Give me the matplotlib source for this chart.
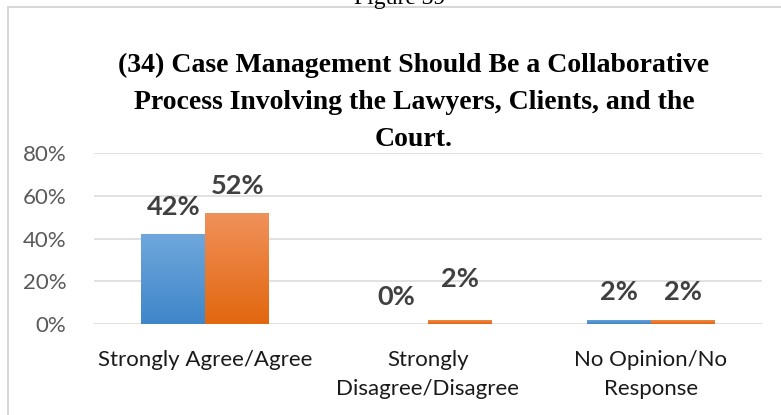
import matplotlib
matplotlib.use("Agg")
import matplotlib.pyplot as plt
import matplotlib.patches as mpatches
import numpy as np

# --- data ---
categories = ["Strongly Agree/Agree", "Strongly\nDisagree/Disagree", "No Opinion/No\nResponse"]
series_a = [42, 0, 2]   # blue
series_b = [52, 2, 2]   # orange
y_ticks = [0, 20, 40, 60, 80]
title = ("(34) Case Management Should Be a Collaborative\n"
         "Process Involving the Lawyers, Clients, and the\nCourt.")
caption = "Figure 39"

W, H = 781, 415
fig = plt.figure(figsize=(W / 100, H / 100), dpi=100)

# light frame around the chart (right/bottom run off the crop)
frame = mpatches.Rectangle((8 / W, -0.1), 1.2, 1.1 - 7 / H, transform=fig.transFigure,
                           fill=False, edgecolor="#d4d4d4", lw=1.3, clip_on=False)
fig.patches.append(frame)

# caption above the frame, mostly cut off like in the source
fig.text(400 / W, 1 - 4 / H, caption, ha="center", va="baseline",
         family="Liberation Serif", fontsize=17, color="black")

fig.text(414 / W, 1 - 53 / H, title, ha="center", va="top", family="Liberation Serif",
         fontweight="bold", fontsize=20, linespacing=1.62, color="black")

ax = fig.add_axes([94 / W, 1 - 324 / H, (762 - 94) / W, (324 - 153) / H])

x = np.arange(len(categories))
bw = 0.287
bars_a = ax.bar(x - bw / 2, series_a, bw, color="#5b9bd5", zorder=2)
bars_b = ax.bar(x + bw / 2, series_b, bw, color="#ed7d31", zorder=2)


def shade(bars, top, bottom):
    # vertical gradient fill clipped to each bar
    cmap = matplotlib.colors.LinearSegmentedColormap.from_list("g", [bottom, top])
    grad = np.linspace(0, 1, 64).reshape(-1, 1)
    for b in bars:
        if b.get_height() <= 0:
            continue
        x0, y0 = b.get_x(), b.get_y()
        im = ax.imshow(grad, cmap=cmap, origin="lower", aspect="auto", zorder=2.5,
                       extent=(x0, x0 + b.get_width(), y0, y0 + b.get_height()))
        im.set_clip_path(b)


shade(bars_a, "#6fa7dc", "#3f86c9")
shade(bars_b, "#f0915a", "#e2670f")
ax.set_xlim(-0.5, len(categories) - 0.5)
ax.set_ylim(0, 80)

ax.set_yticks(y_ticks)
ax.set_yticklabels([f"{v}%" for v in y_ticks], family="Lato", fontsize=16, color="#595959")
ax.set_xticks(x)
ax.set_xticklabels(categories, family="Lato", fontsize=16, color="#1a1a1a", linespacing=1.55)
ax.tick_params(axis="y", length=0, pad=20)
ax.tick_params(axis="x", length=0, pad=19)

ax.grid(axis="y", color="#d9d9d9", lw=1.1, zorder=0)
for s in ax.spines.values():
    s.set_visible(False)

# value labels; the orange 2% in the middle group sits a bit higher in the original
for i, (b, v) in enumerate(zip(bars_a, series_a)):
    ax.annotate(f"{v}%", (b.get_x() + b.get_width() / 2, v), xytext=(0, 11),
                textcoords="offset points", ha="center", va="bottom",
                family="Lato", fontweight="bold", fontsize=19.5, color="#404040")
for i, (b, v) in enumerate(zip(bars_b, series_b)):
    lift = 21 if i == 1 else 11
    ax.annotate(f"{v}%", (b.get_x() + b.get_width() / 2, v), xytext=(0, lift),
                textcoords="offset points", ha="center", va="bottom",
                family="Lato", fontweight="bold", fontsize=19.5, color="#404040")

fig.savefig("out.png", dpi=100)
